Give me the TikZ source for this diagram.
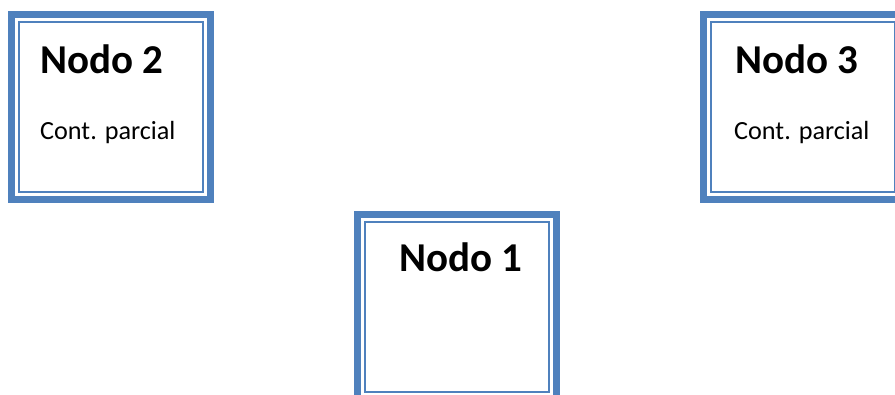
\documentclass[tikz,border=0pt]{standalone}
\usepackage{fontspec}
\setmainfont{Carlito}
\definecolor{boxblue}{HTML}{4F81BD}
\tikzset{
  nodebox/.style={draw=boxblue, line width=7pt, fill=white, inner sep=0pt, outer sep=0pt,
    minimum width=199pt, minimum height=185pt, anchor=north west},
  innerline/.style={draw=boxblue, line width=2pt},
  title/.style={anchor=base west, inner sep=0pt, font=\fontsize{41}{46}\selectfont\bfseries},
  subtitle/.style={anchor=base west, inner sep=0pt, font=\fontsize{26.2}{31}\selectfont},
}
\begin{document}
\begin{tikzpicture}[x=1pt, y=-1pt]
  \useasboundingbox (0,0) rectangle (895,394);
  % outer thick frames, anchored at the centre of the stroke
  \node[nodebox] (n2) at (11.5,14.5) {};
  \node[nodebox] (n3) at (703.5,14.5) {};
  \node[nodebox] (n1) at (357.5,214.5) {};
  % thin inner frames
  \foreach \n in {n1,n2,n3}{
    \draw[innerline] ([shift={(7.5pt,-7.5pt)}]\n.north west) rectangle ([shift={(-7.5pt,7.5pt)}]\n.south east);
  }
  % labels
  \node[title] (t2) at (40,73) {Nodo 2};
  \node[subtitle] (s2) at (40,139) {Cont. parcial};
  \node[title] (t3) at (735,73) {Nodo 3};
  \node[subtitle] (s3) at (734,139) {Cont. parcial};
  \node[title] (t1) at (399,271) {Nodo 1};
\end{tikzpicture}
\end{document}
